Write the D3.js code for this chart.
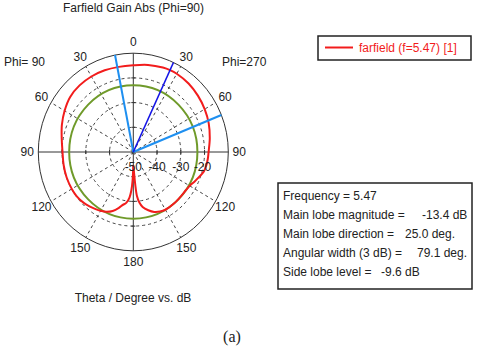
<!DOCTYPE html>
<html>
<head>
<meta charset="utf-8">
<script src="https://cdn.jsdelivr.net/npm/d3@7"></script>
<style>
  body { margin: 0; background: #fff; }
  text { font-family: "Liberation Sans", Arial, sans-serif; fill: #222; }
</style>
</head>
<body>
<div id="chart"></div>
<script>
// farfield cut, theta in degrees (right half = Phi 270, left half = Phi 90)
var thetaDeg = [-180, -178.5, -177, -175, -172, -168, -165, -160, -155, -150, -145, -140, -135, -127,
  -120, -110, -100, -90, -80, -70, -60, -50, -40, -30, -20, -10, 0, 10, 20, 25, 30, 40, 50, 60, 70,
  80, 90, 95, 100, 105, 110, 115, 120, 125, 130, 140, 150, 155, 160, 165, 170, 173, 175, 176.5, 178, 180];
var gainDb = [-44.7, -38.5, -34.5, -31.5, -29.3, -28.0, -26.6, -24.6, -23.3, -22.5, -21.9, -21.3, -20.7, -20.2,
  -20.1, -20.1, -20.2, -20.2, -19.4, -18.0, -16.6, -15.3, -14.8, -14.7, -14.8, -15.0, -14.9, -14.2, -13.6, -13.4, -13.4, -13.8, -14.5, -15.3, -16.2,
  -17.3, -18.3, -18.5, -18.8, -19.3, -20.5, -21.6, -22.6, -23.0, -23.1, -23.0, -23.0, -23.4, -24.2, -25.6, -27.4, -29.5, -32.0, -37.0, -42.0, -44.7];

var ringDb = [-40, -30, -20];
var ringLabels = [-50, -40, -30, -20];
var spokeDeg = [30, 60, 120, 150, -30, -60, -120, -150];
var labelAngles = [0, 30, 60, 90, 120, 150, 180, -150, -120, -90, -60, -30];
var labelTexts = ["0", "30", "60", "90", "120", "150", "180", "150", "120", "90", "60", "30"];

var mainLobeDir = 25.0;
var beamEdges = [-11.1, 68.0];
var mainLobeMag = -13.4;
var sideLobeLevel = -9.6;

var infoLabels = ["Frequency = 5.47", "Main lobe magnitude =", "Main lobe direction =", "Angular width (3 dB) =", "Side lobe level ="];
var infoValues = ["", "-13.4 dB", "25.0 deg.", "79.1 deg.", "-9.6 dB"];
var infoValueX = [0, 422, 405, 417, 381];

var width = 480, height = 347;
var cx = 133.3, cy = 152, R = 95, ky = 1.04;

var svg = d3.select("#chart").append("svg")
  .attr("width", width)
  .attr("height", height);

var r = d3.scaleLinear().domain([-50, -10]).range([0, R]);
var rad = d => d * Math.PI / 180;

// plot group, slightly taller than wide like the original
var g = svg.append("g")
  .attr("transform", `translate(${cx},${cy}) scale(1,${ky})`);

function px(a, rr) { return rr * Math.sin(rad(a)); }
function py(a, rr) { return -rr * Math.cos(rad(a)); }

// dashed rings
g.selectAll(".ring")
  .data(ringDb)
  .enter().append("circle")
  .attr("r", d => r(d))
  .attr("fill", "none")
  .attr("stroke", "#444")
  .attr("stroke-width", 1)
  .attr("stroke-dasharray", "3,3")
  .attr("vector-effect", "non-scaling-stroke");

// dashed spokes
g.selectAll(".spoke")
  .data(spokeDeg)
  .enter().append("line")
  .attr("x1", 0).attr("y1", 0)
  .attr("x2", d => px(d, R)).attr("y2", d => py(d, R))
  .attr("stroke", "#444")
  .attr("stroke-dasharray", "3,3")
  .attr("vector-effect", "non-scaling-stroke");

// outer circle
g.append("circle")
  .attr("r", r(-10))
  .attr("fill", "none")
  .attr("stroke", "#333")
  .attr("stroke-width", 1)
  .attr("vector-effect", "non-scaling-stroke");

// axes cross
g.append("line").attr("x1", -R).attr("x2", R).attr("y1", 0).attr("y2", 0)
  .attr("stroke", "#333").attr("vector-effect", "non-scaling-stroke");
g.append("line").attr("x1", 0).attr("x2", 0).attr("y1", -R).attr("y2", R)
  .attr("stroke", "#333").attr("vector-effect", "non-scaling-stroke");

// small ticks on the cross
ringDb.forEach(function(d) {
  var rr = r(d);
  [1, -1].forEach(function(s) {
    g.append("line").attr("x1", s * rr).attr("x2", s * rr).attr("y1", -2).attr("y2", 2)
      .attr("stroke", "#333").attr("vector-effect", "non-scaling-stroke");
    g.append("line").attr("y1", s * rr).attr("y2", s * rr).attr("x1", -2).attr("x2", 2)
      .attr("stroke", "#333").attr("vector-effect", "non-scaling-stroke");
  });
});

// side lobe level circle (green)
g.append("circle")
  .attr("r", r(mainLobeMag + (-Math.abs(sideLobeLevel))))
  .attr("fill", "none")
  .attr("stroke", "#6f9a2a")
  .attr("stroke-width", 2)
  .attr("vector-effect", "non-scaling-stroke");

// farfield curve
var pts = thetaDeg.map((t, i) => [t, gainDb[i]]);
var line = d3.line()
  .x(d => px(d[0], r(d[1])))
  .y(d => py(d[0], r(d[1])))
  .curve(d3.curveCatmullRom.alpha(0.5));

g.append("path")
  .datum(pts)
  .attr("d", line)
  .attr("fill", "none")
  .attr("stroke", "#f21c1c")
  .attr("stroke-width", 2)
  .attr("vector-effect", "non-scaling-stroke");

// 3 dB beam edges
g.selectAll(".edge")
  .data(beamEdges)
  .enter().append("line")
  .attr("x1", 0).attr("y1", 0)
  .attr("x2", d => px(d, R)).attr("y2", d => py(d, R))
  .attr("stroke", "#1e8ff0")
  .attr("stroke-width", 2)
  .attr("vector-effect", "non-scaling-stroke");

// main lobe direction
g.append("line")
  .attr("x1", 0).attr("y1", 0)
  .attr("x2", px(mainLobeDir, R)).attr("y2", py(mainLobeDir, R))
  .attr("stroke", "#1414e6")
  .attr("stroke-width", 1.6)
  .attr("vector-effect", "non-scaling-stroke");

// angle labels
var LR = 106;
svg.selectAll(".alab")
  .data(labelAngles)
  .enter().append("text")
  .attr("x", d => cx + px(d, LR))
  .attr("y", d => cy + py(d, LR) * ky)
  .attr("dy", "0.35em")
  .attr("text-anchor", "middle")
  .attr("font-size", "12px")
  .text((d, i) => labelTexts[i]);

// dB labels
svg.selectAll(".rlab")
  .data(ringLabels)
  .enter().append("text")
  .attr("x", d => cx + r(d) - (d === -20 ? 2 : 0))
  .attr("y", cy + 15)
  .attr("dy", "0.35em")
  .attr("text-anchor", "middle")
  .attr("font-size", "12px")
  .text(d => d);

// title and captions
svg.append("text").attr("x", 133.5).attr("y", 8).attr("dy", "0.35em")
  .attr("text-anchor", "middle").attr("font-size", "12px")
  .text("Farfield Gain Abs (Phi=90)");
svg.append("text").attr("x", 4).attr("y", 62).attr("dy", "0.35em")
  .attr("font-size", "12px").text("Phi= 90");
svg.append("text").attr("x", 222).attr("y", 62).attr("dy", "0.35em")
  .attr("font-size", "12px").text("Phi=270");
svg.append("text").attr("x", 133).attr("y", 298).attr("dy", "0.35em")
  .attr("text-anchor", "middle").attr("font-size", "12px")
  .text("Theta / Degree vs. dB");
svg.append("text").attr("x", 232).attr("y", 336).attr("dy", "0.35em")
  .attr("text-anchor", "middle").attr("font-size", "16px")
  .style("font-family", "'Liberation Serif', serif")
  .text("(a)");

// legend
svg.append("rect").attr("x", 318).attr("y", 36).attr("width", 153).attr("height", 24)
  .attr("fill", "#fff").attr("stroke", "#222").attr("stroke-width", 1.5);
svg.append("line").attr("x1", 325).attr("x2", 353).attr("y1", 47.5).attr("y2", 47.5)
  .attr("stroke", "#f21c1c").attr("stroke-width", 2);
svg.append("text").attr("x", 359).attr("y", 48).attr("dy", "0.35em")
  .attr("font-size", "12px").style("fill", "#f21c1c")
  .text("farfield (f=5.47) [1]");

// info box
svg.append("rect").attr("x", 278).attr("y", 183).attr("width", 194).attr("height", 106)
  .attr("fill", "#fff").attr("stroke", "#222").attr("stroke-width", 1.5);
var infoY = [196, 215, 234, 253, 272];
infoLabels.forEach(function(t, i) {
  svg.append("text").attr("x", 283).attr("y", infoY[i]).attr("dy", "0.35em")
    .attr("font-size", "12px").text(t);
  if (infoValues[i]) {
    svg.append("text").attr("x", infoValueX[i]).attr("y", infoY[i]).attr("dy", "0.35em")
      .attr("font-size", "12px").text(infoValues[i]);
  }
});
</script>
</body>
</html>
